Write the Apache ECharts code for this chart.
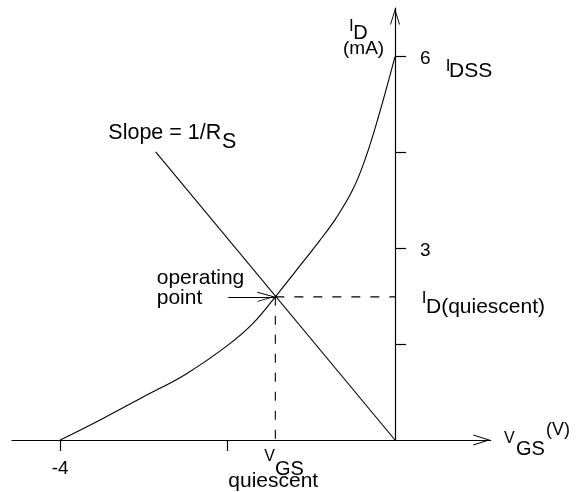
<!DOCTYPE html>
<html>
<head>
<meta charset="utf-8">
<script src="https://cdn.jsdelivr.net/npm/echarts@6/dist/echarts.min.js"></script>
<style>
  html, body { margin: 0; padding: 0; background: #fff; }
  #c { width: 577px; height: 492px; }
</style>
</head>
<body>
<div id="c"></div>
<script>
// JFET transfer characteristic (I_D vs V_GS) with the self-bias load line
const vgs  = [-4, -3.5, -3.0, -2.5, -2.0, -1.7, -1.43, -1.2, -0.9, -0.7, -0.5, -0.35, -0.2, 0];
const idMa = [0, 0.33, 0.68, 1.03, 1.48, 1.82, 2.24, 2.62, 3.12, 3.48, 3.93, 4.42, 5.05, 6];

// load line I_D = -V_GS / R_S
const loadVgs = [-2.86, 0];
const loadId  = [4.51, 0];

// quiescent (operating) point
const qVgs = -1.43;
const qId  = 2.24;

// axis ticks and tick labels
const xTicks = [-4, -2];
const xTickLabels = [-4];
const yTicks = [1.5, 3, 4.5, 6];
const yTickLabels = [3, 6];

const FONT = '"Liberation Sans", Arial, Helvetica, sans-serif';
const INK = '#000';
// open arrow head, pointing up in its own frame
const CHEVRON = 'path://M55,0L110,175L99.5,175L55,33L10.5,175L0,175Z';

const chart = echarts.init(document.getElementById('c'));

const curve = vgs.map((v, k) => [v, idMa[k]]);
const load = loadVgs.map((v, k) => [v, loadId[k]]);

const plain = (w) => ({ color: INK, width: w });

chart.setOption({
  animation: false,
  backgroundColor: '#fff',
  grid: { left: 12, right: 86.3, top: 8, bottom: 52, containLabel: false, outerBoundsMode: 'none' },
  xAxis: {
    type: 'value',
    min: -4.576,
    max: 1.143,
    splitLine: { show: false },
    axisLine: {
      onZero: true,
      symbol: ['none', CHEVRON],
      symbolSize: [11, 17.5],
      symbolOffset: [0, -8.75],
      lineStyle: plain(1.2)
    },
    axisTick: { show: true, customValues: xTicks, length: 11, lineStyle: plain(1.2) },
    axisLabel: { customValues: xTickLabels, margin: 19, color: INK, fontFamily: FONT, fontSize: 19 }
  },
  yAxis: {
    type: 'value',
    min: 0,
    max: 6.76,
    splitLine: { show: false },
    axisLine: {
      onZero: true,
      symbol: ['none', CHEVRON],
      symbolSize: [10, 17],
      symbolOffset: [0, -8.5],
      lineStyle: plain(1.2)
    },
    axisTick: { show: true, customValues: yTicks, inside: true, length: 11, lineStyle: plain(1.2) },
    axisLabel: { show: false }
  },
  series: [
    {
      name: 'transfer', type: 'line', data: curve, smooth: 0.4,
      showSymbol: false, silent: true, lineStyle: plain(1.1)
    },
    {
      name: 'load line', type: 'line', data: load, showSymbol: false, silent: true,
      lineStyle: plain(1.1)
    },
    {
      name: 'Iq guide', type: 'line', data: [[qVgs, qId], [0, qId]], showSymbol: false, silent: true,
      lineStyle: { color: INK, width: 1.1, type: [9, 10] }
    },
    {
      name: 'Vq guide', type: 'line', data: [[qVgs, qId], [qVgs, 0]], showSymbol: false, silent: true,
      lineStyle: { color: INK, width: 1.1, type: [9, 10] }
    },
    {
      name: 'pointer', type: 'line', data: [], silent: true,
      markLine: {
        silent: true,
        animation: false,
        symbol: ['none', CHEVRON],
        symbolSize: [10, 18],
        symbolOffset: [[0, 0], [0, 9]],
        label: { show: false },
        lineStyle: { color: INK, width: 1.1, type: 'solid' },
        data: [[{ coord: [-1.992, qId] }, { coord: [qVgs, qId] }]]
      }
    }
  ]
});

// text annotations, placed in (V_GS, I_D) coordinates
const notes = [
  { t: 'I', v: -0.550, i: 6.479, s: 17 },
  { t: 'D', v: -0.498, i: 6.362, s: 20 },
  { t: '(mA)', v: -0.621, i: 6.127, s: 19 },
  { t: 'I', v: 0.606, i: 5.853, s: 17 },
  { t: 'DSS', v: 0.645, i: 5.775, s: 21 },
  { t: 'I', v: 0.319, i: 2.222, s: 17 },
  { t: 'D(quiescent)', v: 0.370, i: 2.081, s: 21 },
  { t: 'Slope = 1/R', v: -3.425, i: 4.797, s: 21.5 },
  { t: 'S', v: -2.067, i: 4.664, s: 21.5 },
  { t: 'operating', v: -2.847, i: 2.535, s: 21 },
  { t: 'point', v: -2.847, i: 2.222, s: 21 },
  { t: 'V', v: -1.562, i: -0.261, s: 16 },
  { t: 'GS', v: -1.434, i: -0.463, s: 20 },
  { t: 'quiescent', v: -1.992, i: -0.642, s: 21 },
  { t: 'V', v: 1.302, i: 0.019, s: 16 },
  { t: 'GS', v: 1.446, i: -0.152, s: 20 },
  { t: '(V)', v: 1.804, i: 0.156, s: 18 }
];

const textItem = (x, y, text, size, align) => ({
  type: 'text',
  x: x,
  y: y,
  silent: true,
  style: { text: text, fill: INK, fontFamily: FONT, fontSize: size, align: align || 'left', verticalAlign: 'middle' }
});

const graphic = notes.map((n) => {
  const p = chart.convertToPixel({ gridIndex: 0 }, [n.v, n.i]);
  return textItem(p[0], p[1], n.t, n.s);
});

// I_D tick labels sit to the right of the vertical axis
yTickLabels.forEach((val) => {
  const p = chart.convertToPixel({ gridIndex: 0 }, [0, val]);
  graphic.push(textItem(p[0] + 25, p[1] + 2.5, String(val), 19));
});

chart.setOption({ graphic: graphic });
</script>
</body>
</html>
